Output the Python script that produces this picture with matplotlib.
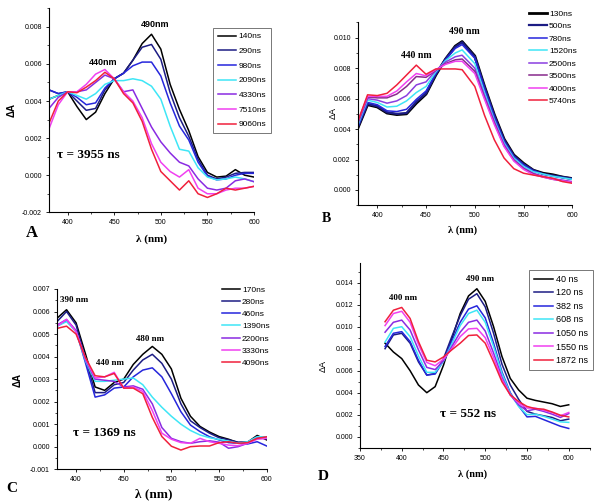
import numpy as np
import matplotlib
matplotlib.use("Agg")
import matplotlib.pyplot as plt
from matplotlib.ticker import MultipleLocator, FormatStrFormatter

# wavelengths (nm), 10 nm steps
wl = [380, 390, 400, 410, 420, 430, 440, 450, 460, 470, 480, 490,
      500, 510, 520, 530, 540, 550, 560, 570, 580, 590, 600]
wl_b = [380, 390, 400, 410, 420, 430, 440, 450, 460, 470, 480, 487,
        500, 510, 520, 530, 540, 550, 560, 570, 580, 590, 600]

# panel A, values in 1e-3
a_labels = ["140ns", "290ns", "980ns", "2090ns", "4330ns", "7510ns", "9060ns"]
a_140 = [4.1, 4.3, 4.5, 3.7, 3.0, 3.4, 4.4, 5.2, 5.5, 6.2, 7.1, 7.6, 6.8, 4.9, 3.55, 2.4, 1.0, 0.15, -0.1, -0.05, 0.3, 0.0, -0.1]
a_290 = [4.6, 4.4, 4.5, 4.0, 3.5, 3.6, 4.6, 5.2, 5.5, 6.2, 6.9, 7.05, 6.25, 4.45, 3.1, 2.1, 0.85, 0.0, -0.2, -0.1, 0.1, 0.15, 0.15]
a_980 = [4.6, 4.4, 4.5, 4.2, 3.8, 3.9, 4.7, 5.2, 5.5, 5.9, 6.1, 6.1, 5.35, 3.9, 2.65, 1.9, 0.7, -0.05, -0.25, -0.2, 0.0, 0.1, 0.1]
a_2090 = [4.1, 4.3, 4.5, 4.3, 4.1, 4.4, 4.9, 5.1, 5.1, 5.2, 5.1, 4.8, 4.1, 2.65, 1.4, 1.3, 0.4, -0.1, -0.25, -0.2, -0.1, -0.2, -0.35]
a_4330 = [3.6, 4.2, 4.5, 4.5, 4.6, 5.0, 5.4, 5.2, 4.5, 4.6, 3.6, 2.6, 1.8, 1.2, 0.7, 0.5, -0.2, -0.7, -0.8, -0.7, -0.3, -0.2, -0.35]
a_7510 = [2.5, 3.8, 4.5, 4.5, 4.9, 5.45, 5.7, 5.2, 4.5, 4.0, 3.1, 1.7, 0.7, 0.2, -0.1, 0.3, -0.7, -1.0, -1.0, -0.8, -0.7, -0.7, -0.6]
a_9060 = [2.8, 4.0, 4.5, 4.45, 4.75, 5.1, 5.55, 5.2, 4.4, 3.9, 2.9, 1.4, 0.2, -0.3, -0.8, -0.3, -1.0, -1.2, -1.0, -0.7, -0.8, -0.7, -0.6]

# panel B
b_labels = ["130ns", "500ns", "780ns", "1520ns", "2500ns", "3500ns", "4000ns", "5740ns"]
b_130 = [4.05, 5.6, 5.45, 5.05, 4.95, 5.0, 5.7, 6.3, 7.55, 8.6, 9.45, 9.75, 8.8, 6.8, 4.95, 3.35, 2.3, 1.75, 1.3, 1.1, 1.0, 0.85, 0.75]
b_500 = [4.1, 5.65, 5.5, 5.1, 5.0, 5.05, 5.8, 6.35, 7.6, 8.6, 9.4, 9.7, 8.75, 6.75, 4.9, 3.3, 2.25, 1.7, 1.3, 1.05, 0.95, 0.85, 0.75]
b_780 = [4.15, 5.75, 5.6, 5.2, 5.15, 5.3, 5.95, 6.5, 7.65, 8.55, 9.3, 9.55, 8.65, 6.65, 4.8, 3.2, 2.2, 1.65, 1.25, 1.05, 0.9, 0.8, 0.7]
b_1520 = [4.25, 5.9, 5.75, 5.45, 5.5, 5.85, 6.4, 6.8, 7.75, 8.5, 9.0, 9.2, 8.3, 6.4, 4.6, 3.1, 2.1, 1.55, 1.2, 1.05, 0.9, 0.8, 0.7]
b_2500 = [4.35, 6.0, 5.9, 5.7, 5.85, 6.2, 6.9, 7.1, 7.85, 8.4, 8.75, 8.85, 8.0, 6.2, 4.5, 3.0, 2.0, 1.45, 1.1, 0.9, 0.75, 0.65, 0.55]
b_3500 = [4.45, 6.1, 6.05, 6.05, 6.3, 6.8, 7.45, 7.4, 7.85, 8.3, 8.55, 8.6, 7.8, 6.05, 4.4, 2.9, 1.95, 1.4, 1.05, 0.85, 0.7, 0.6, 0.5]
b_4000 = [4.5, 6.15, 6.15, 6.15, 6.5, 7.1, 7.65, 7.5, 7.9, 8.25, 8.45, 8.45, 7.65, 5.95, 4.3, 2.85, 1.9, 1.35, 1.0, 0.85, 0.7, 0.6, 0.5]
b_5740 = [4.5, 6.25, 6.2, 6.35, 6.9, 7.55, 8.2, 7.6, 7.95, 7.95, 7.95, 7.9, 6.8, 4.9, 3.3, 2.1, 1.4, 1.1, 0.98, 0.87, 0.77, 0.55, 0.44]

# panel C
c_labels = ["170ns", "280ns", "460ns", "1390ns", "2200ns", "3330ns", "4090ns"]
c_170 = [5.7, 6.08, 5.5, 4.1, 2.65, 2.5, 2.85, 3.0, 3.65, 4.1, 4.45, 4.1, 3.45, 2.15, 1.35, 0.9, 0.65, 0.45, 0.33, 0.18, 0.2, 0.5, 0.3]
c_280 = [5.55, 6.0, 5.4, 3.9, 2.4, 2.4, 2.75, 2.85, 3.4, 3.85, 4.1, 3.7, 3.0, 1.9, 1.15, 0.85, 0.6, 0.4, 0.3, 0.2, 0.2, 0.45, 0.35]
c_460 = [5.35, 5.6, 5.15, 3.7, 2.2, 2.3, 2.6, 2.65, 3.1, 3.4, 3.5, 3.1, 2.35, 1.55, 0.96, 0.67, 0.44, 0.3, 0.18, 0.15, 0.12, 0.22, 0.03]
c_1390 = [5.35, 5.55, 5.1, 3.8, 2.9, 2.9, 2.95, 3.0, 3.05, 2.75, 2.2, 1.75, 1.35, 1.0, 0.72, 0.52, 0.4, 0.32, 0.25, 0.15, 0.22, 0.44, 0.44]
c_2200 = [5.4, 5.65, 5.15, 3.85, 3.0, 2.95, 2.9, 2.65, 2.7, 2.55, 1.9, 0.85, 0.37, 0.22, 0.15, 0.22, 0.26, 0.2, -0.07, 0.0, 0.15, 0.37, 0.37]
c_3330 = [5.35, 5.65, 5.1, 3.9, 3.05, 3.1, 3.3, 2.6, 2.65, 2.45, 1.6, 0.6, 0.33, 0.18, 0.15, 0.37, 0.22, 0.15, 0.07, 0.04, 0.15, 0.33, 0.37]
c_4090 = [5.25, 5.35, 5.0, 3.95, 3.15, 3.1, 3.25, 2.6, 2.6, 2.35, 1.3, 0.45, 0.02, -0.15, 0.0, 0.03, 0.03, 0.18, 0.22, 0.15, 0.18, 0.37, 0.44]

# panel D
d_labels = ["40 ns", "120 ns", "382 ns", "608 ns", "1050 ns", "1550 ns", "1872 ns"]
d_40 = [8.5, 7.7, 7.1, 6.0, 4.7, 4.0, 4.55, 6.5, 8.9, 11.2, 12.8, 13.45, 12.3, 10.0, 7.3, 5.3, 4.25, 3.5, 3.3, 3.15, 3.0, 2.75, 2.9]
d_120 = [8.0, 9.25, 9.4, 8.5, 6.8, 5.6, 5.75, 7.1, 9.1, 11.0, 12.5, 13.0, 11.8, 9.4, 6.6, 4.7, 3.4, 2.3, 2.05, 1.9, 1.75, 1.45, 1.6]
d_382 = [8.2, 9.4, 9.55, 8.65, 6.95, 5.6, 5.7, 6.9, 8.7, 10.4, 11.6, 11.9, 10.8, 8.5, 5.9, 4.0, 2.8, 1.8, 1.85, 1.55, 1.25, 0.95, 0.75]
d_608 = [8.6, 9.85, 10.0, 9.1, 7.35, 5.85, 5.85, 6.85, 8.45, 10.1, 11.2, 11.5, 10.4, 8.2, 5.75, 3.9, 2.75, 2.0, 2.05, 1.85, 1.6, 1.35, 1.3]
d_1050 = [9.5, 10.4, 10.6, 9.7, 7.9, 6.3, 6.1, 6.9, 8.2, 9.5, 10.4, 10.6, 9.6, 7.6, 5.4, 3.8, 2.9, 2.35, 2.5, 2.3, 2.05, 1.75, 2.1]
d_1550 = [10.1, 11.2, 11.4, 10.4, 8.4, 6.75, 6.45, 7.05, 8.0, 9.1, 9.8, 9.85, 9.0, 7.2, 5.2, 3.8, 3.05, 2.6, 2.6, 2.4, 2.2, 1.9, 2.2]
d_1872 = [10.45, 11.5, 11.75, 10.75, 8.65, 6.95, 6.8, 7.25, 7.9, 8.5, 9.2, 9.25, 8.5, 6.8, 5.0, 3.8, 3.2, 2.75, 2.55, 2.5, 2.25, 1.95, 1.8]

col7 = ["#000000", "#1c1c84", "#2626dc", "#3ee6f6", "#8a2be2", "#f040f0", "#f0203c"]
col8 = ["#000000", "#1c1c84", "#2626dc", "#3ee6f6", "#8a3ee0", "#882a8c", "#f040f0", "#f0203c"]

SANS = "Liberation Sans"
SERIF = "Liberation Serif"


def style_axes(ax, xlim, ylim, ymajor, yminor, xmajor=50, xminor=25):
    ax.set_xlim(*xlim)
    ax.set_ylim(*ylim)
    ax.spines["top"].set_visible(False)
    ax.spines["right"].set_visible(False)
    for s in ("left", "bottom"):
        ax.spines[s].set_linewidth(0.8)
    ax.xaxis.set_major_locator(MultipleLocator(xmajor))
    ax.xaxis.set_minor_locator(MultipleLocator(xminor))
    ax.yaxis.set_major_locator(MultipleLocator(ymajor))
    ax.yaxis.set_minor_locator(MultipleLocator(yminor))
    ax.yaxis.set_major_formatter(FormatStrFormatter("%.3f"))
    ax.tick_params(which="major", direction="out", length=2.5, width=0.6,
                   labelsize=5, pad=2.5)
    ax.tick_params(which="minor", direction="out", length=1.5, width=0.5)
    for lab in ax.get_xticklabels() + ax.get_yticklabels():
        lab.set_fontfamily(SANS)


def draw(ax, x, series, labels, colors, lw=1.1):
    for y, lab, c in zip(series, labels, colors):
        ax.plot(x, np.array(y) * 1e-3, color=c, lw=lw, label=lab,
                solid_joinstyle="round")


def labels(ax, xl, yl, ylab_bold, xsize, ysize):
    ax.set_xlabel("λ (nm)", fontfamily=SERIF, fontweight="bold", fontsize=xsize)
    ax.xaxis.set_label_coords(*xl)
    ax.xaxis.label.set_va("center")
    ax.set_ylabel("ΔA", fontfamily=SANS, fontsize=ysize,
                  fontweight="bold" if ylab_bold else "normal")
    ax.yaxis.set_label_coords(*yl)
    ax.yaxis.label.set_va("center")


fig = plt.figure(figsize=(6.0, 5.04), dpi=100)

# ---- A
ax = fig.add_axes([0.08167, 0.57877, 0.34167, 0.40476])
draw(ax, wl, [a_140, a_290, a_980, a_2090, a_4330, a_7510, a_9060], a_labels, col7)
style_axes(ax, (380, 600), (-0.002, 0.009), 0.002, 0.001)
labels(ax, (0.502, -0.131), (-0.18, 0.50), True, 8, 7)
ax.text(494, 0.0081, "490nm", fontfamily=SANS, fontweight="bold", fontsize=6.5,
        ha="center", va="center")
ax.text(438, 0.0061, "440nm", fontfamily=SANS, fontweight="bold", fontsize=6.5,
        ha="center", va="center")
ax.text(422, 0.0011, "τ = 3955 ns", fontfamily=SERIF, fontweight="bold",
        fontsize=9.5, ha="center", va="center")
leg = ax.legend(loc="upper left", bbox_to_anchor=(0.355, 0.9444),
                bbox_transform=fig.transFigure, prop={"family": SANS, "size": 6},
                frameon=True, fancybox=False, edgecolor="#555555",
                handlelength=2.2, handletextpad=0.3, labelspacing=0.82,
                borderpad=0.55, borderaxespad=0)
leg.get_frame().set_linewidth(0.7)
fig.text(0.0533, 0.5377, "A", fontfamily=SERIF, fontweight="bold", fontsize=12,
         ha="center", va="center")

# ---- B
ax = fig.add_axes([0.59633, 0.59286, 0.3575, 0.3625])
draw(ax, wl_b, [b_130, b_500, b_780, b_1520, b_2500, b_3500, b_4000, b_5740],
     b_labels, col8)
ax.lines[0].set_linewidth(2.0)
ax.lines[1].set_linewidth(1.6)
style_axes(ax, (380, 600), (-0.001, 0.011), 0.002, 0.001)
labels(ax, (0.49, -0.136), (-0.116, 0.505), False, 7.5, 6.5)
ax.text(489, 0.0104, "490 nm", fontfamily=SERIF, fontweight="bold", fontsize=7,
        ha="center", va="center")
ax.text(440, 0.0088, "440 nm", fontfamily=SERIF, fontweight="bold", fontsize=7,
        ha="center", va="center")
ax.legend(loc="upper left", bbox_to_anchor=(0.8817, 0.98),
          bbox_transform=fig.transFigure, prop={"family": SANS, "size": 6},
          frameon=False, handlelength=2.2, handletextpad=0.2,
          labelspacing=0.56, borderpad=0, borderaxespad=0)
fig.text(0.5445, 0.5655, "B", fontfamily=SERIF, fontweight="bold", fontsize=10,
         ha="center", va="center")

# ---- C
ax = fig.add_axes([0.095, 0.06905, 0.3495, 0.35754])
draw(ax, wl, [c_170, c_280, c_460, c_1390, c_2200, c_3330, c_4090], c_labels, col7)
style_axes(ax, (380, 600), (-0.001, 0.007), 0.001, 0.0005)
labels(ax, (0.4626, -0.1376), (-0.19, 0.495), True, 9.5, 7)
ax.text(398, 0.0065, "390 nm", fontfamily=SERIF, fontweight="bold", fontsize=6.5,
        ha="center", va="center")
ax.text(435.6, 0.0037, "440 nm", fontfamily=SERIF, fontweight="bold", fontsize=6.5,
        ha="center", va="center")
ax.text(477.6, 0.0048, "480 nm", fontfamily=SERIF, fontweight="bold", fontsize=6.5,
        ha="center", va="center")
ax.text(430, 0.0006, "τ = 1369 ns", fontfamily=SERIF, fontweight="bold",
        fontsize=9.5, ha="center", va="center")
ax.legend(loc="upper left", bbox_to_anchor=(0.37, 0.4325),
          bbox_transform=fig.transFigure, prop={"family": SANS, "size": 6},
          frameon=False, handlelength=2.2, handletextpad=0.2,
          labelspacing=0.52, borderpad=0, borderaxespad=0)
fig.text(0.0195, 0.0298, "C", fontfamily=SERIF, fontweight="bold", fontsize=11,
         ha="center", va="center")

# ---- D
ax = fig.add_axes([0.6, 0.11171, 0.38267, 0.36667])
draw(ax, wl, [d_40, d_120, d_382, d_608, d_1050, d_1550, d_1872], d_labels, col7)
style_axes(ax, (350, 625), (-0.001, 0.0158), 0.002, 0.001)
labels(ax, (0.492, -0.142), (-0.161, 0.44), False, 7.5, 6.5)
ax.text(493.7, 0.0143, "490 nm", fontfamily=SERIF, fontweight="bold", fontsize=6.5,
        ha="center", va="center")
ax.text(401, 0.0126, "400 nm", fontfamily=SERIF, fontweight="bold", fontsize=6.5,
        ha="center", va="center")
ax.text(479.7, 0.0021, "τ = 552 ns", fontfamily=SERIF, fontweight="bold",
        fontsize=9.5, ha="center", va="center")
leg = ax.legend(loc="upper left", bbox_to_anchor=(0.881, 0.4643),
                bbox_transform=fig.transFigure, prop={"family": SANS, "size": 6.5},
                frameon=True, fancybox=False, edgecolor="#555555",
                handlelength=2.2, handletextpad=0.3, labelspacing=0.5,
                borderpad=0.55, borderaxespad=0)
leg.get_frame().set_linewidth(0.7)
fig.text(0.538, 0.0542, "D", fontfamily=SERIF, fontweight="bold", fontsize=11,
         ha="center", va="center")

fig.savefig("out.png", dpi=100)
